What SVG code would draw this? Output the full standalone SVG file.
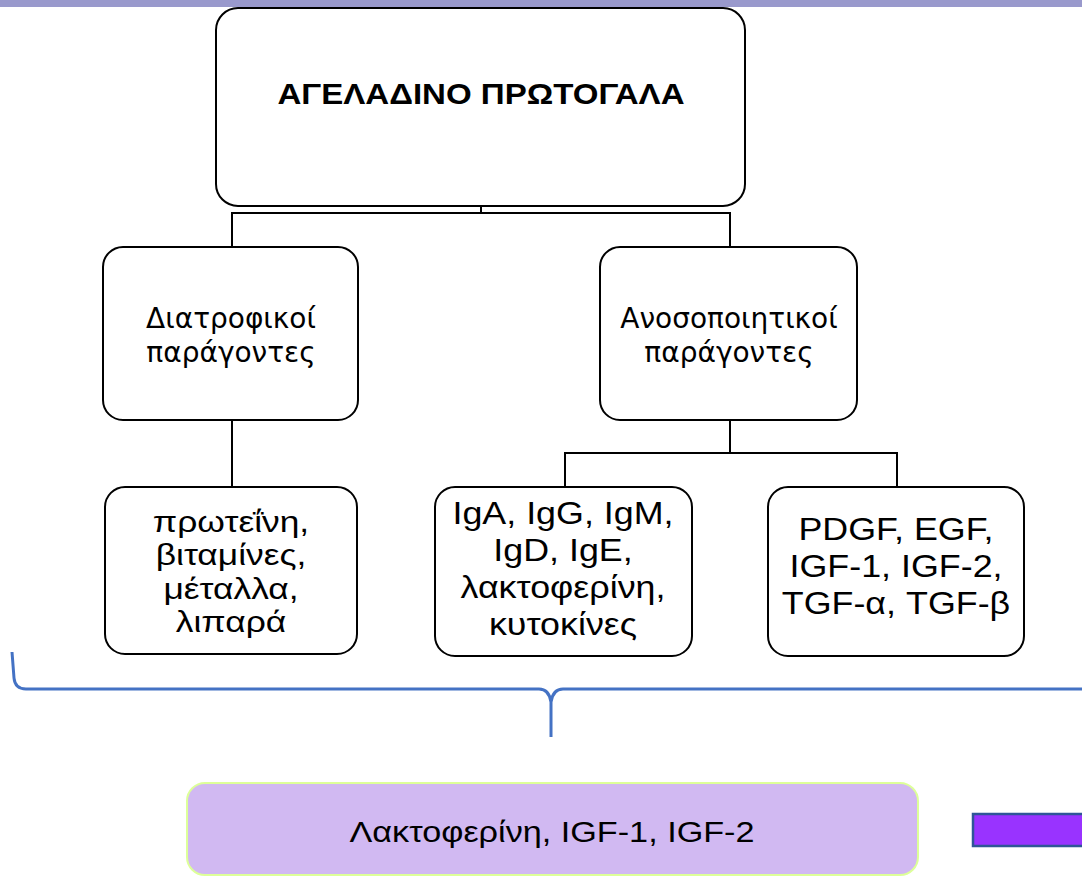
<svg xmlns="http://www.w3.org/2000/svg" width="1082" height="877" viewBox="0 0 1082 877">
<style>
.box{fill:#fff;stroke:#000;stroke-width:2}
.con{fill:none;stroke:#000;stroke-width:2}
.t{font-family:"Liberation Sans",Arial,sans-serif;fill:#000;text-anchor:middle}
.m{font-family:"DejaVu Sans",Verdana,sans-serif;fill:#000;text-anchor:middle}
</style>
<rect x="0" y="0" width="1082" height="7" fill="#9999CC"/>
<g id="connectors">
<path class="con" d="M481,206 V213 M232,247 V213 H730 V247"/>
<path class="con" d="M232,420 V487"/>
<path class="con" d="M730,420 V453 M565,487 V453 H897 V487"/>
</g>
<g id="root">
<rect class="box" x="216" y="8" width="529" height="198" rx="22"/>
<text class="t" font-size="29" font-weight="bold" transform="translate(481,104) scale(1.14,1)">ΑΓΕΛΑΔΙΝΟ ΠΡΩΤΟΓΑΛΑ</text>
</g>
<g id="nutri">
<rect class="box" x="103" y="247" width="255" height="173" rx="20"/>
<text class="m" font-size="28"><tspan x="231" y="328">Διατροφικοί</tspan><tspan x="231" y="362">παράγοντες</tspan></text>
</g>
<g id="immuno">
<rect class="box" x="600" y="247" width="257" height="173" rx="20"/>
<text class="m" font-size="28"><tspan x="729" y="328">Ανοσοποιητικοί</tspan><tspan x="729" y="362">παράγοντες</tspan></text>
</g>
<g id="nutrients">
<rect class="box" x="105" y="487" width="252" height="167" rx="20"/>
<g transform="translate(231,0) scale(1.22,1)">
<text class="t" font-size="29"><tspan x="0" y="532">πρωτεΐνη,</tspan><tspan x="0" y="565.5">βιταμίνες,</tspan><tspan x="0" y="599">μέταλλα,</tspan><tspan x="0" y="632.5">λιπαρά</tspan></text>
</g>
</g>
<g id="immunoglobulins">
<rect class="box" x="435" y="487" width="257" height="169" rx="20"/>
<g transform="translate(563,0) scale(1.12,1)">
<text class="t" font-size="32"><tspan x="0" y="524">IgA, IgG, IgM,</tspan><tspan x="0" y="561">IgD, IgE,</tspan><tspan x="0" y="598">λακτοφερίνη,</tspan><tspan x="0" y="635">κυτοκίνες</tspan></text>
</g>
</g>
<g id="growth">
<rect class="box" x="768" y="487" width="256" height="169" rx="20"/>
<g transform="translate(896,0) scale(1.12,1)">
<text class="t" font-size="32"><tspan x="0" y="540">PDGF, EGF,</tspan><tspan x="0" y="577">IGF-1, IGF-2,</tspan><tspan x="0" y="614">TGF-α, TGF-β</tspan></text>
</g>
</g>
<path d="M12,652 L14,678 Q15,689 26,689 L539,689 Q549,689 551,702 L551,737 M551,702 Q553,689 563,689 L1082,689" fill="none" stroke="#4472C4" stroke-width="3"/>
<g id="result">
<rect x="187" y="783" width="731" height="92" rx="18" fill="#D1B9F2" stroke="#DDFF99" stroke-width="2"/>
<text class="t" font-size="30" transform="translate(552,842) scale(1.14,1)">Λακτοφερίνη, IGF-1, IGF-2</text>
</g>
<rect x="973" y="814" width="112" height="32" fill="#9933FF" stroke="#2F5597" stroke-width="2.5"/>
</svg>
